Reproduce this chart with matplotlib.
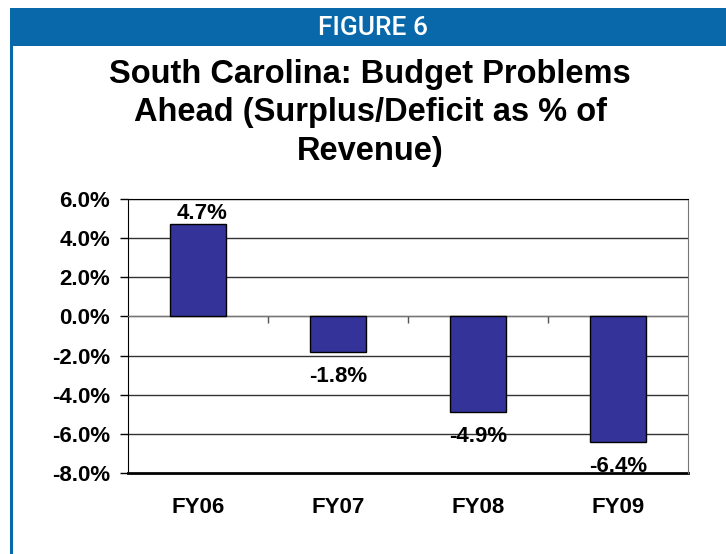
import matplotlib
matplotlib.use("Agg")
import matplotlib.pyplot as plt
from matplotlib.patches import Rectangle
from matplotlib.lines import Line2D
from matplotlib.ticker import FuncFormatter

categories = ["FY06", "FY07", "FY08", "FY09"]
values = [4.7, -1.8, -4.9, -6.4]
yticks = [-8, -6, -4, -2, 0, 2, 4, 6]

W, H = 726, 554
fig = plt.figure(figsize=(W / 100, H / 100), dpi=100)
fig.patch.set_facecolor("white")

FAM = ["Liberation Sans", "DejaVu Sans"]
blue = "#0868AA"
# header band
fig.patches.append(Rectangle((10 / W, 1 - 46 / H), 1 - 10 / W, 38 / H,
                             transform=fig.transFigure, facecolor=blue,
                             edgecolor="none", zorder=0))
# left border line
fig.lines.append(Line2D([11 / W, 11 / W], [0, 1 - 46 / H], transform=fig.transFigure,
                        color=blue, lw=2.2))
fig.text(373 / W, 1 - 28 / H, "FIGURE 6", color="white", ha="center", va="center",
         fontsize=19, fontweight="medium", family=["Roboto", "DejaVu Sans"])

fig.text(370 / W, 1 - 113 / H,
         "South Carolina: Budget Problems\nAhead (Surplus/Deficit as % of\nRevenue)",
         ha="center", va="center", fontsize=23.5, fontweight="bold",
         family=FAM, linespacing=1.33)

ax = fig.add_axes([128 / W, 1 - 473 / H, 560 / W, 274 / H])
x = list(range(len(categories)))
bars = ax.bar(x, values, width=0.4, color="#333399", edgecolor="black", linewidth=1, zorder=3)
ax.set_xlim(-0.5, len(categories) - 0.5)
ax.set_ylim(-8, 6)
ax.set_yticks(yticks)
ax.yaxis.set_major_formatter(FuncFormatter(lambda v, p: f"{v:.1f}%"))
ax.tick_params(axis="y", direction="out", length=6, width=1, labelsize=16, pad=7)
for lab in ax.get_yticklabels():
    lab.set_family(FAM)
    lab.set_fontweight("bold")
ax.grid(axis="y", color="#333333", linewidth=1, zorder=0)
ax.set_axisbelow(True)

# category axis at zero with small boundary ticks
ax.spines["bottom"].set_position(("data", 0))
ax.spines["bottom"].set_color("#777777")
ax.set_xticks([0.5, 1.5, 2.5])
ax.set_xticklabels([])
ax.tick_params(axis="x", direction="out", length=5, color="#555555", width=1)
ax.spines["left"].set_color("black")
ax.spines["top"].set_color("black")
ax.spines["right"].set_color("#777777")

sec = ax.secondary_xaxis(0)
sec.set_xticks(x)
sec.set_xticklabels(categories, fontsize=16, fontweight="bold", family=FAM)
sec.tick_params(length=0, pad=17)
sec.spines["bottom"].set_linewidth(2)
sec.spines["bottom"].set_color("black")

for xi, v in zip(x, values):
    if v >= 0:
        ax.annotate(f"{v:.1f}%", (xi, v), xytext=(3, 0), textcoords="offset points",
                    ha="center", va="bottom", fontsize=16, fontweight="bold", family=FAM)
    else:
        ax.annotate(f"{v:.1f}%", (xi, v), xytext=(0, -10), textcoords="offset points",
                    ha="center", va="top", fontsize=16, fontweight="bold", family=FAM)

fig.savefig("out.png", dpi=100)
